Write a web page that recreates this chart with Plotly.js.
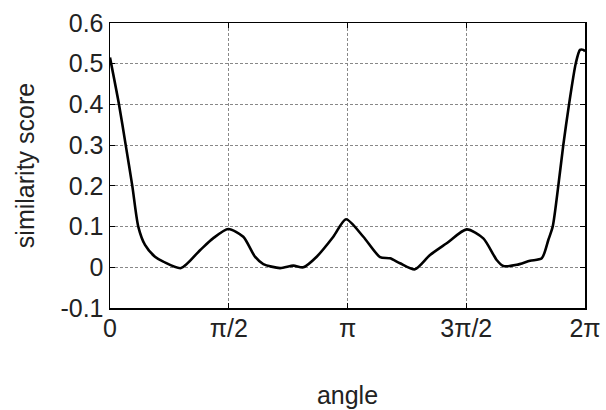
<!DOCTYPE html>
<html>
<head>
<meta charset="utf-8">
<script src="https://cdn.plot.ly/plotly-3.0.1.min.js"></script>
<style>html,body{margin:0;padding:0;background:#fff;}</style>
</head>
<body>
<div id="chart" style="width:606px;height:410px;"></div>
<script>
// angle in radians
const angle = [0, 0.119, 0.208, 0.295, 0.374, 0.463, 0.595, 0.705, 0.939, 1.191, 1.363, 1.565, 1.763, 1.918, 2.028, 2.249, 2.425, 2.557, 2.734, 2.954, 3.122, 3.351, 3.572, 3.704, 3.836, 4.034, 4.233, 4.454, 4.718, 4.938, 5.115, 5.203, 5.380, 5.556, 5.711, 5.798, 5.856, 5.930, 5.996, 6.072, 6.160, 6.217, 6.261, 6.283];
const score = [0.515, 0.40, 0.30, 0.20, 0.10, 0.055, 0.026, 0.014, -0.002, 0.042, 0.071, 0.094, 0.075, 0.026, 0.008, -0.002, 0.004, 0.0, 0.026, 0.075, 0.118, 0.075, 0.025, 0.022, 0.01, -0.005, 0.03, 0.059, 0.093, 0.071, 0.018, 0.003, 0.006, 0.016, 0.022, 0.067, 0.10, 0.20, 0.30, 0.40, 0.50, 0.534, 0.534, 0.53];
const xTickVals = [0, Math.PI/2, Math.PI, 3*Math.PI/2, 2*Math.PI];
const xTickText = ['0', 'π/2', 'π', '3π/2', '2π'];
const yTickVals = [-0.1, 0, 0.1, 0.2, 0.3, 0.4, 0.5, 0.6];
const yTickText = ['-0.1', '0', '0.1', '0.2', '0.3', '0.4', '0.5', '0.6'];

const fontFam = 'Liberation Sans, Arial, sans-serif';
const trace = {
  x: angle, y: score, type: 'scatter', mode: 'lines',
  line: {color: '#000', width: 2.6, shape: 'spline', smoothing: 0.7},
  hoverinfo: 'skip'
};
const layout = {
  width: 606, height: 410,
  margin: {l: 110, r: 21, t: 23, b: 102},
  paper_bgcolor: '#fff', plot_bgcolor: '#fff',
  showlegend: false,
  font: {family: fontFam, color: '#222', size: 25},
  xaxis: {
    range: [0, 2*Math.PI], tickmode: 'array', tickvals: xTickVals, ticktext: xTickText,
    showline: true, linecolor: '#000', linewidth: 1.5, mirror: 'ticks',
    ticks: 'inside', ticklen: 5, tickcolor: '#000',
    showgrid: true, gridcolor: '#888', gridwidth: 1, griddash: '3px,2px',
    zeroline: false, ticklabelstandoff: -3,
    tickfont: {family: fontFam, size: 25, color: '#222'},
    title: {text: 'angle', font: {family: fontFam, size: 25, color: '#222'}, standoff: 46}
  },
  yaxis: {
    range: [-0.1, 0.6], tickmode: 'array', tickvals: yTickVals, ticktext: yTickText,
    showline: true, linecolor: '#000', linewidth: 1.5, mirror: 'ticks',
    ticks: 'inside', ticklen: 5, tickcolor: '#000',
    showgrid: true, gridcolor: '#888', gridwidth: 1, griddash: '3px,2px',
    zeroline: false,
    tickfont: {family: fontFam, size: 25, color: '#222'},
    title: {text: 'similarity score', font: {family: fontFam, size: 25, color: '#222'}, standoff: 18}
  }
};
Plotly.newPlot('chart', [trace], layout, {staticPlot: true, displayModeBar: false});
</script>
</body>
</html>
